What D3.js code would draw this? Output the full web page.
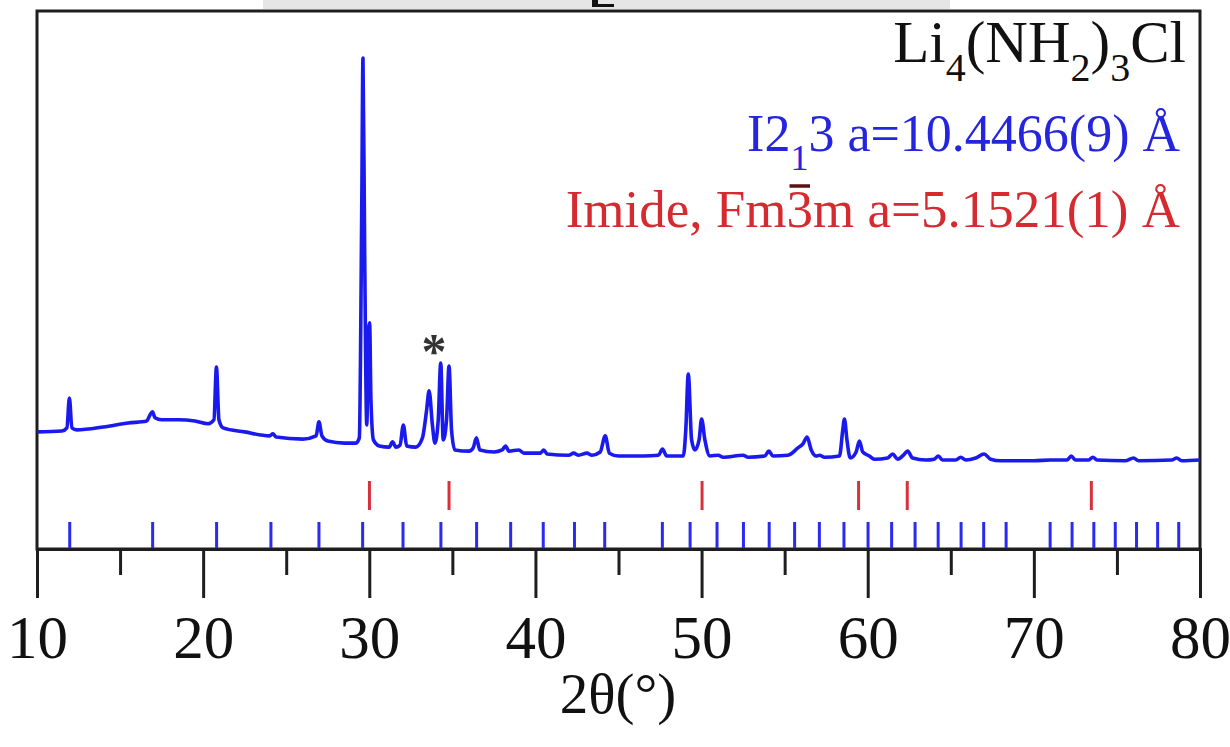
<!DOCTYPE html>
<html>
<head>
<meta charset="utf-8">
<script src="https://cdn.jsdelivr.net/npm/d3@7"></script>
<style>
  html, body { margin: 0; padding: 0; background: #ffffff; }
  svg { display: block; }
  text { font-family: "Liberation Serif", "Times New Roman", serif; }
</style>
</head>
<body>
<svg id="chart" width="1230" height="747"></svg>
<script>
// ---- data ----
const twoTheta = [
  10.0, 11.5, 11.8, 11.95, 12.1, 12.4, 14.0, 15.5, 16.6, 16.8, 16.95, 17.1, 17.5, 18.5, 19.5,
  20.3, 20.65, 20.8, 20.95, 21.2, 22.5, 24.0, 24.2, 24.4, 26.0, 26.8, 26.97, 27.15, 27.5, 28.5,
  29.2, 29.4, 29.55, 29.62, 29.72, 29.85, 29.95, 30.02, 30.1, 30.25, 30.6, 31.2, 31.4, 31.6, 31.85,
  32.05, 32.25, 32.8, 33.2, 33.45, 33.6, 33.8, 33.95, 34.15, 34.3, 34.45, 34.65, 34.8, 34.95, 35.15,
  36.0, 36.25, 36.45, 36.65, 37.5, 38.0, 38.2, 38.4, 39.0, 39.3, 40.3, 40.5, 40.7, 42.0, 42.3,
  42.6, 43.1, 43.4, 43.9, 44.2, 44.45, 45.0, 46.5, 47.4, 47.65, 47.9, 48.9, 49.05, 49.2, 49.4,
  49.6, 49.85, 50.0, 50.2, 50.5, 51.0, 51.3, 52.5, 52.8, 53.8, 54.05, 54.3, 55.2, 55.8, 56.1,
  56.35, 56.6, 56.9, 57.1, 57.4, 58.3, 58.5, 58.6, 58.75, 58.95, 59.3, 59.5, 59.7, 60.1, 60.4,
  61.2, 61.5, 61.8, 62.15, 62.4, 62.7, 63.5, 64.0, 64.25, 64.5, 65.3, 65.6, 65.9, 66.5, 67.0,
  67.4, 68.0, 70.0, 71.0, 72.0, 72.25, 72.5, 73.3, 73.55, 73.8, 75.5, 76.0, 76.3, 78.3, 78.6,
  78.9, 80.0
];
const intensity = [
  70, 72, 80, 154, 80, 75, 82, 92, 97, 112, 120, 105, 100, 100, 97,
  90, 100, 231, 100, 80, 70, 60, 65, 57, 52, 60, 95, 60, 47, 42,
  42, 55, 647, 1000, 523, 87, 323, 341, 149, 50, 35, 32, 45, 32, 37,
  87, 35, 32, 55, 124, 172, 87, 42, 100, 241, 50, 100, 234, 75, 25,
  22, 30, 55, 25, 20, 25, 35, 22, 25, 17, 17, 25, 15, 12, 17,
  12, 17, 12, 20, 60, 17, 10, 10, 12, 27, 10, 10, 75, 214, 50,
  25, 50, 102, 50, 10, 12, 7, 12, 7, 10, 22, 10, 12, 30, 40,
  57, 25, 10, 12, 7, 10, 75, 102, 50, 5, 20, 47, 20, 10, 2,
  5, 15, 2, 12, 22, 5, 0, 2, 10, 0, 0, 7, 0, 5, 15,
  2, -2, -2, 0, 0, 10, 0, 0, 7, 0, -2, 5, -2, 0, 5,
  -2, 0
];
// Reflection positions (2θ, °)
const imideTicks = [30.01, 34.80, 50.03, 59.45, 62.38, 73.46];
const i213Ticks = [
  11.97, 16.96, 20.81, 24.08, 26.97, 29.60, 32.03, 34.31, 36.46, 38.51, 40.47, 42.35, 44.17,
  47.64, 49.31, 50.93, 52.52, 54.07, 55.60, 57.09, 58.57, 60.02, 61.44, 62.85, 64.24, 65.62,
  66.98, 68.33, 70.98, 72.30, 73.61, 74.90, 76.18, 77.45, 78.72
];
const majorTicks = [10, 20, 30, 40, 50, 60, 70, 80];
const minorTicks = [15, 25, 35, 45, 55, 65, 75];
const xTitle = "2θ(°)";
const asteriskPos = 33.9;

// ---- drawing ----
const svg = d3.select("#chart");
const mLeft = 37, mRight = 1200, mTop = 11, axisY = 549;

const x = d3.scaleLinear().domain([10, 80]).range([mLeft, mRight]);
const y = d3.scaleLinear().domain([0, 1000]).range([460, 58]);

// cropped header remnant at very top (bar of a cut-off glyph)
svg.append("rect").attr("x", 263).attr("y", 0).attr("width", 687).attr("height", 9).attr("fill", "#e6e6e6");
svg.append("path").attr("d", "M592,0 L598,0 L598,4 L614,4 L614,7 L592,7 Z").attr("fill", "#111");

// frame
svg.append("rect").attr("x", mLeft).attr("y", mTop).attr("width", mRight - mLeft).attr("height", axisY - mTop)
  .attr("fill", "none").attr("stroke", "#1e1e1e").attr("stroke-width", 3);

// pattern line
const pts = twoTheta.map((t, i) => [t, intensity[i]]);
const line = d3.line().x(d => x(d[0])).y(d => y(d[1])).curve(d3.curveMonotoneX);
svg.append("path").datum(pts).attr("d", line).attr("fill", "none")
  .attr("stroke", "#1a1aee").attr("stroke-width", 3.6).attr("stroke-linejoin", "round");

// reflection ticks
svg.append("g").selectAll("line").data(imideTicks).join("line")
  .attr("x1", d => x(d)).attr("x2", d => x(d)).attr("y1", 481).attr("y2", 510)
  .attr("stroke", "#d8303c").attr("stroke-width", 3);
svg.append("g").selectAll("line").data(i213Ticks).join("line")
  .attr("x1", d => x(d)).attr("x2", d => x(d)).attr("y1", 522).attr("y2", 549)
  .attr("stroke", "#2a2af0").attr("stroke-width", 3);

// x axis
const gMajor = svg.append("g").attr("transform", `translate(0,${axisY})`)
  .call(d3.axisBottom(x).tickValues(majorTicks).tickSize(49).tickPadding(21).tickFormat(d3.format("d")));
gMajor.select(".domain").attr("stroke", "#1e1e1e").attr("stroke-width", 3);
gMajor.selectAll(".tick line").attr("stroke", "#1e1e1e").attr("stroke-width", 3);
gMajor.selectAll(".tick text").attr("font-size", 61).attr("fill", "#111").attr("dy", null).attr("y", 109)
  .attr("font-family", "Liberation Serif, Times New Roman, serif");

const gMinor = svg.append("g").attr("transform", `translate(0,${axisY})`)
  .call(d3.axisBottom(x).tickValues(minorTicks).tickSize(26).tickFormat(""));
gMinor.select(".domain").remove();
gMinor.selectAll(".tick line").attr("stroke", "#1e1e1e").attr("stroke-width", 3);

svg.append("text").attr("x", 618).attr("y", 713).attr("text-anchor", "middle")
  .attr("font-size", 57).attr("fill", "#111").text(xTitle);

// asterisk
svg.append("text").attr("x", x(asteriskPos)).attr("y", 368).attr("text-anchor", "middle")
  .attr("font-size", 50).attr("font-weight", "bold").attr("fill", "#333").text("*");

// legend texts
const t1 = svg.append("text").attr("x", 1186).attr("y", 62).attr("text-anchor", "end")
  .attr("font-size", 59).attr("fill", "#111");
t1.append("tspan").text("Li");
t1.append("tspan").attr("font-size", 40).attr("dy", 19).text("4");
t1.append("tspan").attr("dy", -19).text("(NH");
t1.append("tspan").attr("font-size", 40).attr("dy", 19).text("2");
t1.append("tspan").attr("dy", -19).text(")");
t1.append("tspan").attr("font-size", 40).attr("dy", 19).text("3");
t1.append("tspan").attr("dy", -19).text("Cl");

const t2 = svg.append("text").attr("x", 1180).attr("y", 151).attr("text-anchor", "end")
  .attr("font-size", 52).attr("fill", "#2525e0");
t2.append("tspan").text("I2");
t2.append("tspan").attr("font-size", 36).attr("dy", 19).text("1");
t2.append("tspan").attr("dy", -19).text("3 a=10.4466(9) Å");

const t3 = svg.append("text").attr("x", 1180).attr("y", 227).attr("text-anchor", "end")
  .attr("font-size", 53).attr("fill", "#d42a30").text("Imide, Fm3m a=5.1521(1) Å");
const ext = t3.node().getExtentOfChar(9);
svg.append("line").attr("x1", ext.x + 3).attr("x2", ext.x + ext.width - 3)
  .attr("y1", 227 - 41).attr("y2", 227 - 41).attr("stroke", "#5a1212").attr("stroke-width", 3.5);
</script>
</body>
</html>
